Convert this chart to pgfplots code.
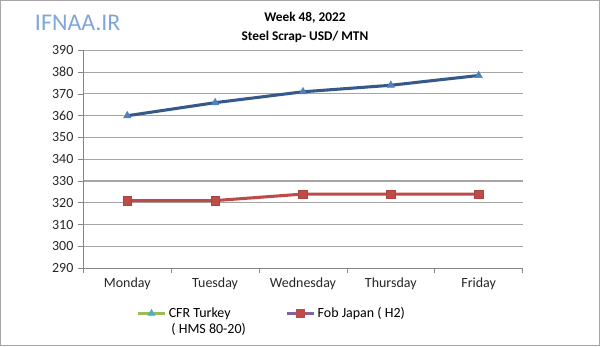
\documentclass[border=0pt]{standalone}
\usepackage{pgfplots}
\pgfplotsset{compat=1.18}
\usepackage{fontspec}
\setmainfont{Carlito}
\definecolor{blueline}{HTML}{35598A}
\definecolor{bluemark}{HTML}{4F81BD}
\definecolor{redline}{HTML}{BE4B48}
\definecolor{greenleg}{HTML}{9BBB59}
\definecolor{tealmark}{HTML}{4BACC6}
\definecolor{purpleleg}{HTML}{8064A2}
\definecolor{gridgray}{HTML}{A6A6A6}
\definecolor{axgray}{HTML}{868686}
\definecolor{wm}{HTML}{7EA6D8}
\begin{document}
\begin{tikzpicture}
\draw[gray!70, line width=0.8pt, use as bounding box] (0,0) rectangle (450pt,259.5pt);
\node[font=\bfseries\fontsize{10}{12}\selectfont] at (228.75pt,246.5pt) {Week 48, 2022};
\node[font=\bfseries\fontsize{10}{12}\selectfont] at (228.75pt,232.5pt) {Steel Scrap- USD/ MTN};
\node[font=\fontsize{18}{20}\selectfont, text=wm] at (58pt,243pt) {IFNAA.IR};
\begin{axis}[
  at={(62.25pt,58.5pt)}, anchor=south west,
  scale only axis, width=330pt, height=163.5pt,
  xmin=-0.5, xmax=4.5, ymin=290, ymax=390,
  xtick={0,1,2,3,4},
  xticklabels={Monday,Tuesday,Wednesday,Thursday,Friday},
  minor xtick={-0.5,0.5,1.5,2.5,3.5,4.5},
  ytick={290,300,...,390},
  major x tick style={draw=none},
  minor x tick style={axgray, line width=0.6pt},
  y tick style={axgray, line width=0.6pt},
  tick align=outside, major tick length=4pt, minor tick length=4pt,
  xtick pos=bottom, ytick pos=left,
  ymajorgrids, grid style={gridgray, line width=0.8pt},
  axis x line*=bottom, axis y line*=left,
  axis line style={axgray, line width=0.8pt, -},
  tick label style={font=\fontsize{10.5}{12}\selectfont, text=black!85},
  /pgf/number format/assume math mode=true,
  legend style={at={(0.43,-0.155)}, anchor=north, draw=none, fill=none,
    legend columns=2, font=\fontsize{10.5}{12}\selectfont,
    /tikz/every even column/.append style={column sep=28pt},
    row sep=-1pt,
    cells={anchor=west}},
  legend image code/.code={\draw[#1] plot coordinates {(0cm,0cm)(0.35cm,0cm)(0.7cm,0cm)};},
]
\addplot[blueline, line width=2.3pt, mark=triangle*, mark size=3.2pt,
  mark options={fill=bluemark, draw=bluemark, line width=0.4pt}, forget plot]
  coordinates {(0,360) (1,366) (2,371) (3,374) (4,378.5)};
\addplot[redline, line width=2.3pt, mark=square*, mark size=3.2pt,
  mark options={fill=redline, draw=redline!90!black, line width=0.4pt}, forget plot]
  coordinates {(0,321) (1,321) (2,324) (3,324) (4,324)};
\addlegendimage{greenleg, line width=2pt, mark=triangle*, mark size=3pt, mark options={fill=tealmark, draw=tealmark, line width=0.4pt}, mark repeat=2, mark phase=2}
\addlegendentry{CFR Turkey}
\addlegendimage{purpleleg, line width=2pt, mark=square*, mark size=3pt, mark options={fill=redline, draw=redline, line width=0.4pt}, mark repeat=2, mark phase=2}
\addlegendentry{Fob Japan ( H2)}
\addlegendimage{empty legend}
\addlegendentry{\hspace*{2pt}( HMS 80-20)}
\end{axis}
\end{tikzpicture}
\end{document}
